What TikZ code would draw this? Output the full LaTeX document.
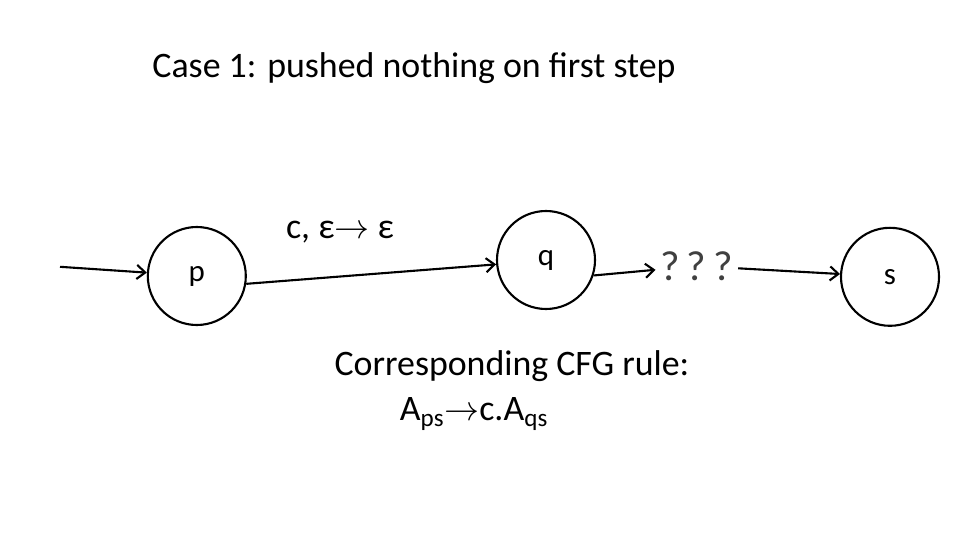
\documentclass[tikz,border=0pt]{standalone}
\usepackage{fontspec}
\setmainfont{Carlito}
\usetikzlibrary{arrows.meta}
\tikzset{state/.style={draw,circle,line width=1.5pt,minimum size=2.45cm,font=\fontsize{22}{26}\selectfont},
         txt/.style={font=\fontsize{25.5}{30}\selectfont},
         edge/.style={line width=1.5pt,-{Straight Barb[length=6pt,width=10pt]}}}
\begin{document}
\begin{tikzpicture}
            \useasboundingbox (0,0) rectangle (24,13.5);
            \node[txt] (title) at (10.35,11.8) {Case 1: pushed nothing on first step};

            \node[state] (p) at (4.92,6.6) {p};
            \node[state] (q) at (13.65,7.0) {q};
            \node[state] (s) at (22.25,6.58) {s};

            \coordinate (in) at (1.5,6.83);
            \node[txt,text=black!75,font=\fontsize{30}{34}\selectfont] (unk) at (17.42,6.85) {?\,?\,?};

            \node[txt] (lbl) at (8.5,7.7) {c, ε$\rightarrow$ ε};
            \node[txt] (rule) at (12.8,4.35) {Corresponding CFG rule:};
            \node[txt] (prod) at (11.85,3.15) {A$_{\mathrm{ps}}$$\rightarrow$c.A$_{\mathrm{qs}}$};

            \draw[edge] (in) -- (p);
            \draw[edge] (p.-9) -- (q.-175);
            \draw[edge] (q.-18) -- (unk);
            \draw[edge] (unk) -- (s);

         \end{tikzpicture}
\end{document}
